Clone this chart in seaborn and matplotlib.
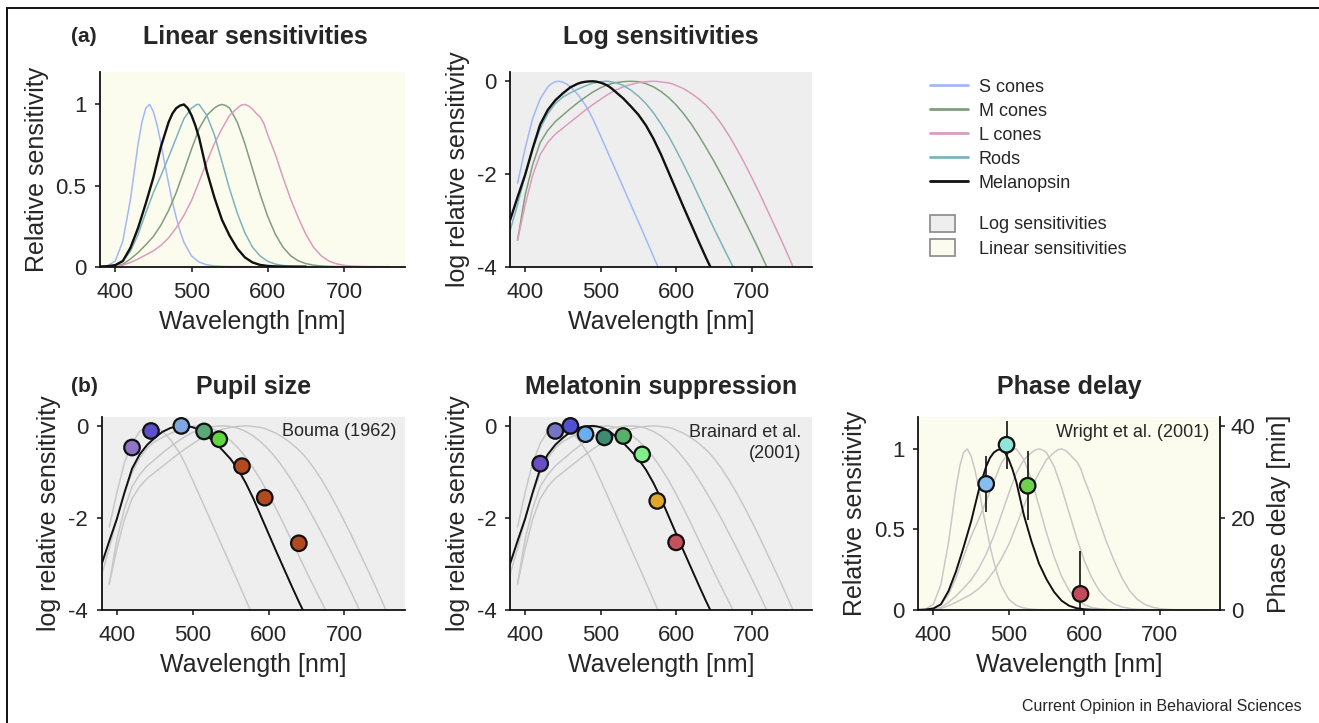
import numpy as np
import pandas as pd
import matplotlib
matplotlib.use("Agg")
import matplotlib.pyplot as plt
import seaborn as sns
from matplotlib.lines import Line2D
from matplotlib.patches import Patch, Rectangle

# ---------------- data (log10 relative sensitivity) -------------
receptors = ["S cones", "M cones", "L cones", "Rods", "Melanopsin"]

s_wl = [390, 400, 410, 420, 430, 435, 440, 445, 450, 455, 460, 465, 470, 475, 480, 485,
        490, 500, 510, 520, 530, 540, 550, 560, 570, 580]
s_log = [-2.20, -1.45, -0.80, -0.38, -0.12, -0.05, -0.01, 0.00, -0.02, -0.06, -0.12,
         -0.20, -0.29, -0.40, -0.52, -0.66, -0.82, -1.18, -1.55, -1.92, -2.29, -2.66,
         -3.03, -3.40, -3.78, -4.15]

m_wl = [390, 400, 410, 420, 430, 440, 450, 460, 470, 480, 490, 500, 510, 520, 530, 535,
        540, 545, 550, 560, 570, 580, 590, 600, 610, 620, 630, 640, 650, 660, 670, 680,
        690, 700, 710, 720, 730]
m_log = [-3.43, -2.46, -1.80, -1.32, -1.06, -0.87, -0.73, -0.59, -0.46, -0.34, -0.23,
         -0.14, -0.07, -0.03, -0.01, -0.003, 0.00, -0.003, -0.01, -0.05, -0.12, -0.22,
         -0.35, -0.51, -0.70, -0.92, -1.17, -1.44, -1.72, -2.02, -2.33, -2.65, -2.98,
         -3.31, -3.65, -4.00, -4.35]

l_wl = [390, 400, 410, 420, 430, 440, 450, 460, 470, 480, 490, 500, 510, 520, 530, 540,
        550, 560, 565, 570, 575, 580, 585, 590, 595, 600, 610, 620, 630, 640, 650, 660,
        670, 680, 690, 700, 710, 720, 730, 740, 750, 760]
l_log = [-3.43, -2.67, -2.03, -1.58, -1.32, -1.14, -1.01, -0.88, -0.75, -0.62, -0.50,
         -0.39, -0.28, -0.19, -0.12, -0.07, -0.03, -0.01, -0.002, 0.00, -0.004, -0.013,
         -0.025, -0.035, -0.055, -0.09, -0.16, -0.26, -0.38, -0.52, -0.70, -0.92, -1.17,
         -1.45, -1.75, -2.07, -2.40, -2.75, -3.10, -3.45, -3.82, -4.20]

rod_wl = [380, 390, 400, 410, 420, 430, 440, 450, 460, 470, 480, 490, 500, 507, 510,
          520, 530, 540, 550, 560, 570, 580, 590, 600, 610, 620, 630, 640, 650, 660,
          670, 680]
rod_log = [-3.23, -2.66, -2.03, -1.46, -1.02, -0.70, -0.48, -0.34, -0.25, -0.17, -0.10,
           -0.04, -0.01, 0.00, 0.00, -0.03, -0.09, -0.19, -0.32, -0.48, -0.68, -0.92,
           -1.18, -1.48, -1.80, -2.13, -2.48, -2.82, -3.17, -3.50, -3.83, -4.15]

mel_wl = [380, 390, 400, 410, 420, 430, 440, 450, 460, 470, 475, 480, 485, 490, 495,
          500, 505, 510, 515, 520, 530, 540, 550, 560, 570, 580, 590, 600, 610, 620,
          630, 640, 650]
mel_log = [-3.00, -2.50, -2.02, -1.45, -0.93, -0.62, -0.41, -0.26, -0.13, -0.05, -0.025,
           -0.01, -0.003, 0.00, -0.01, -0.03, -0.06, -0.10, -0.16, -0.23, -0.37, -0.54,
           -0.72, -0.95, -1.24, -1.58, -1.96, -2.34, -2.72, -3.09, -3.46, -3.82, -4.16]

# Pupil size, Bouma (1962)
pupil_wl = [420, 445, 485, 515, 535, 565, 595, 640]
pupil_log = [-0.47, -0.11, 0.00, -0.12, -0.29, -0.875, -1.56, -2.55]
pupil_col = ["#9272c6", "#5c52c8", "#80a8e0", "#5aa878", "#62d840",
             "#b24a1f", "#b24a1f", "#b24a1f"]

# Melatonin suppression, Brainard et al. (2001)
mela_wl = [420, 440, 460, 480, 505, 530, 555, 575, 600]
mela_log = [-0.82, -0.11, 0.00, -0.18, -0.25, -0.22, -0.62, -1.63, -2.53]
mela_col = ["#6a4fc0", "#7474c4", "#5050d2", "#6aaef0", "#3e8a72", "#56b26a",
            "#80ee8a", "#e0a82a", "#c4525e"]

# Phase delay, Wright et al. (2001)
phase_wl = [470, 497, 525, 595]
phase_min = [27.4, 35.9, 27.0, 3.5]
phase_err = [6.0, 5.2, 7.5, 9.4]
phase_col = ["#86bef2", "#90e4d8", "#70d24c", "#c24d5a"]

palette = {"S cones": "#a2b8f6", "M cones": "#7f9e7c", "L cones": "#dc9cbd",
           "Rods": "#7db3bc", "Melanopsin": "#111111"}
grey_pal = {r: "#c8c8c8" for r in receptors[:4]}

BG_LOG = "#eeeeee"
BG_LIN = "#fcfcee"

# ---------------- tidy table ----------------
frames = []
for name, wl, lg in zip(receptors, [s_wl, m_wl, l_wl, rod_wl, mel_wl],
                        [s_log, m_log, l_log, rod_log, mel_log]):
    frames.append(pd.DataFrame({"wl": wl, "log": lg, "receptor": name}))
df = pd.concat(frames, ignore_index=True)
df["lin"] = 10.0 ** df["log"]
df_other = df[df.receptor != "Melanopsin"]
df_mel = df[df.receptor == "Melanopsin"]

# ---------------- style ----------------
sns.set_style("ticks")
plt.rcParams["font.family"] = ["Liberation Sans", "DejaVu Sans"]
plt.rcParams["axes.unicode_minus"] = False

W, H = 1319, 723
fig = plt.figure(figsize=(W / 100, H / 100), dpi=100)


def ax_at(l, t, r, b):
    return fig.add_axes([l / W, 1 - b / H, (r - l) / W, (b - t) / H])


def style(ax, bg, log):
    ax.set_facecolor(bg)
    for sp in ("top", "right"):
        ax.spines[sp].set_visible(False)
    for sp in ("left", "bottom"):
        ax.spines[sp].set_color("#111111")
        ax.spines[sp].set_linewidth(1.3)
    ax.set_xlim(380, 780)
    ax.set_xticks([400, 500, 600, 700])
    ax.tick_params(direction="out", length=3.8, width=1.1, labelsize=16, pad=6,
                   color="#111111")
    ax.tick_params(axis="x", pad=7)
    if log:
        ax.set_ylim(-4, 0.2)
        ax.set_yticks([-4, -2, 0])
        ax.set_yticklabels(["-4", "-2", "0"])
        ax.set_ylabel("log relative sensitivity", fontsize=18, labelpad=5)
    else:
        ax.set_ylim(0, 1.2)
        ax.set_yticks([0, 0.5, 1])
        ax.set_yticklabels(["0", "0.5", "1"])
        ax.set_ylabel("Relative sensitivity", fontsize=18, labelpad=5)
    ax.set_xlabel("Wavelength [nm]", fontsize=18, labelpad=5)


# ---------------- (a) Linear ----------------
axA = ax_at(100, 72, 405, 266.7)
sns.lineplot(data=df_other, x="wl", y="lin", hue="receptor", hue_order=receptors[:4],
             palette=palette, legend=False, errorbar=None, linewidth=1.1, ax=axA)
sns.lineplot(data=df_mel, x="wl", y="lin", color=palette["Melanopsin"],
             errorbar=None, linewidth=1.7, ax=axA)
style(axA, BG_LIN, log=False)

# ---------------- (a) Log ----------------
axB = ax_at(510, 72, 812, 266.7)
sns.lineplot(data=df_other, x="wl", y="log", hue="receptor", hue_order=receptors[:4],
             palette=palette, legend=False, errorbar=None, linewidth=1.1, ax=axB)
sns.lineplot(data=df_mel, x="wl", y="log", color=palette["Melanopsin"],
             errorbar=None, linewidth=1.7, ax=axB)
style(axB, BG_LOG, log=True)

# ---------------- (b) Pupil ----------------
axC = ax_at(101.7, 416.7, 405, 610)
sns.lineplot(data=df_other, x="wl", y="log", hue="receptor", hue_order=receptors[:4],
             palette=grey_pal, legend=False, errorbar=None, linewidth=1.1, ax=axC)
sns.lineplot(data=df_mel, x="wl", y="log", color="#111111", errorbar=None,
             linewidth=1.4, ax=axC)
sns.scatterplot(x=pupil_wl, y=pupil_log, hue=[str(i) for i in range(len(pupil_wl))],
                palette=pupil_col, s=125, edgecolor="#111111", linewidth=1.6,
                legend=False, zorder=5, ax=axC)
style(axC, BG_LOG, log=True)
axC.text(0.973, 0.922, "Bouma (1962)", transform=axC.transAxes, ha="right",
         va="center", fontsize=13)

# ---------------- (b) Melatonin ----------------
axD = ax_at(510, 416.7, 812, 610)
sns.lineplot(data=df_other, x="wl", y="log", hue="receptor", hue_order=receptors[:4],
             palette=grey_pal, legend=False, errorbar=None, linewidth=1.1, ax=axD)
sns.lineplot(data=df_mel, x="wl", y="log", color="#111111", errorbar=None,
             linewidth=1.4, ax=axD)
sns.scatterplot(x=mela_wl, y=mela_log, hue=[str(i) for i in range(len(mela_wl))],
                palette=mela_col, s=125, edgecolor="#111111", linewidth=1.6,
                legend=False, zorder=5, ax=axD)
style(axD, BG_LOG, log=True)
axD.text(0.966, 0.864, "Brainard et al.\n(2001)", transform=axD.transAxes,
         ha="right", va="center", multialignment="right", linespacing=1.25,
         fontsize=13)

# ---------------- (b) Phase delay ----------------
axE = ax_at(918.3, 416.7, 1220, 610)
sns.lineplot(data=df_other, x="wl", y="lin", hue="receptor", hue_order=receptors[:4],
             palette=grey_pal, legend=False, errorbar=None, linewidth=1.1, ax=axE)
sns.lineplot(data=df_mel, x="wl", y="lin", color="#111111", errorbar=None,
             linewidth=1.4, ax=axE)
style(axE, BG_LIN, log=False)
axE2 = axE.twinx()
axE2.set_ylim(0, 42)
axE2.set_yticks([0, 20, 40])
for sp in ("top", "left", "bottom"):
    axE2.spines[sp].set_visible(False)
axE2.spines["right"].set_color("#111111")
axE2.spines["right"].set_linewidth(1.3)
axE2.tick_params(direction="out", length=3.8, width=1.1, labelsize=16, pad=4,
                 color="#111111")
lo = [m - e for m, e in zip(phase_min, phase_err)]
hi = [m + e for m, e in zip(phase_min, phase_err)]
axE2.vlines(phase_wl, lo, hi, color="#111111", linewidth=1.2, zorder=3)
sns.scatterplot(x=phase_wl, y=phase_min, hue=[str(i) for i in range(len(phase_wl))],
                palette=phase_col, s=125, edgecolor="#111111", linewidth=1.6,
                legend=False, zorder=5, ax=axE2)
axE2.set_ylabel("Phase delay [min]", fontsize=18, labelpad=8)
axE2.set_xlim(380, 780)
axE.text(0.9635, 0.916, "Wright et al. (2001)", transform=axE.transAxes, ha="right",
         va="center", fontsize=13)

# ---------------- titles & tags ----------------
def ftext(x, y, s, **kw):
    fig.text(x / W, 1 - y / H, s, **kw)

ftext(255, 37, "Linear sensitivities", ha="center", va="center", fontsize=18,
      fontweight="bold")
ftext(661, 37, "Log sensitivities", ha="center", va="center", fontsize=18,
      fontweight="bold")
ftext(254, 387, "Pupil size", ha="center", va="center", fontsize=18, fontweight="bold")
ftext(661, 387, "Melatonin suppression", ha="center", va="center", fontsize=18,
      fontweight="bold")
ftext(1069, 387, "Phase delay", ha="center", va="center", fontsize=18,
      fontweight="bold")
ftext(84, 37, "(a)", ha="center", va="center", fontsize=15, fontweight="bold")
ftext(84, 386, "(b)", ha="center", va="center", fontsize=15, fontweight="bold")
ftext(1302, 706, "Current Opinion in Behavioral Sciences", ha="right", va="center",
      fontsize=11.5)

# ---------------- legends ----------------
line_handles = [Line2D([], [], color=palette[r], lw=2.0) for r in receptors]
fig.legend(line_handles, receptors, loc="upper left",
           bbox_to_anchor=(930 / W, 1 - 78.5 / H), frameon=False, fontsize=13,
           handlelength=2.1, handletextpad=0.6, labelspacing=0.39, borderpad=0,
           borderaxespad=0)
patch_handles = [Patch(facecolor=BG_LOG, edgecolor="#888888", linewidth=1.2),
                 Patch(facecolor=BG_LIN, edgecolor="#888888", linewidth=1.2)]
fig.legend(patch_handles, ["Log sensitivities", "Linear sensitivities"],
           loc="upper left", bbox_to_anchor=(930 / W, 1 - 214.5 / H), frameon=False,
           fontsize=13, handlelength=1.4, handleheight=1.1, handletextpad=1.3,
           labelspacing=0.3, borderpad=0, borderaxespad=0)

# ---------------- frame ----------------
fig.add_artist(Rectangle((7 / W, -0.5), 2.0, (1 - 8 / H) + 0.5,
                         transform=fig.transFigure, fill=False,
                         edgecolor="#111111", linewidth=1.4))

fig.savefig("out.png", dpi=100)
